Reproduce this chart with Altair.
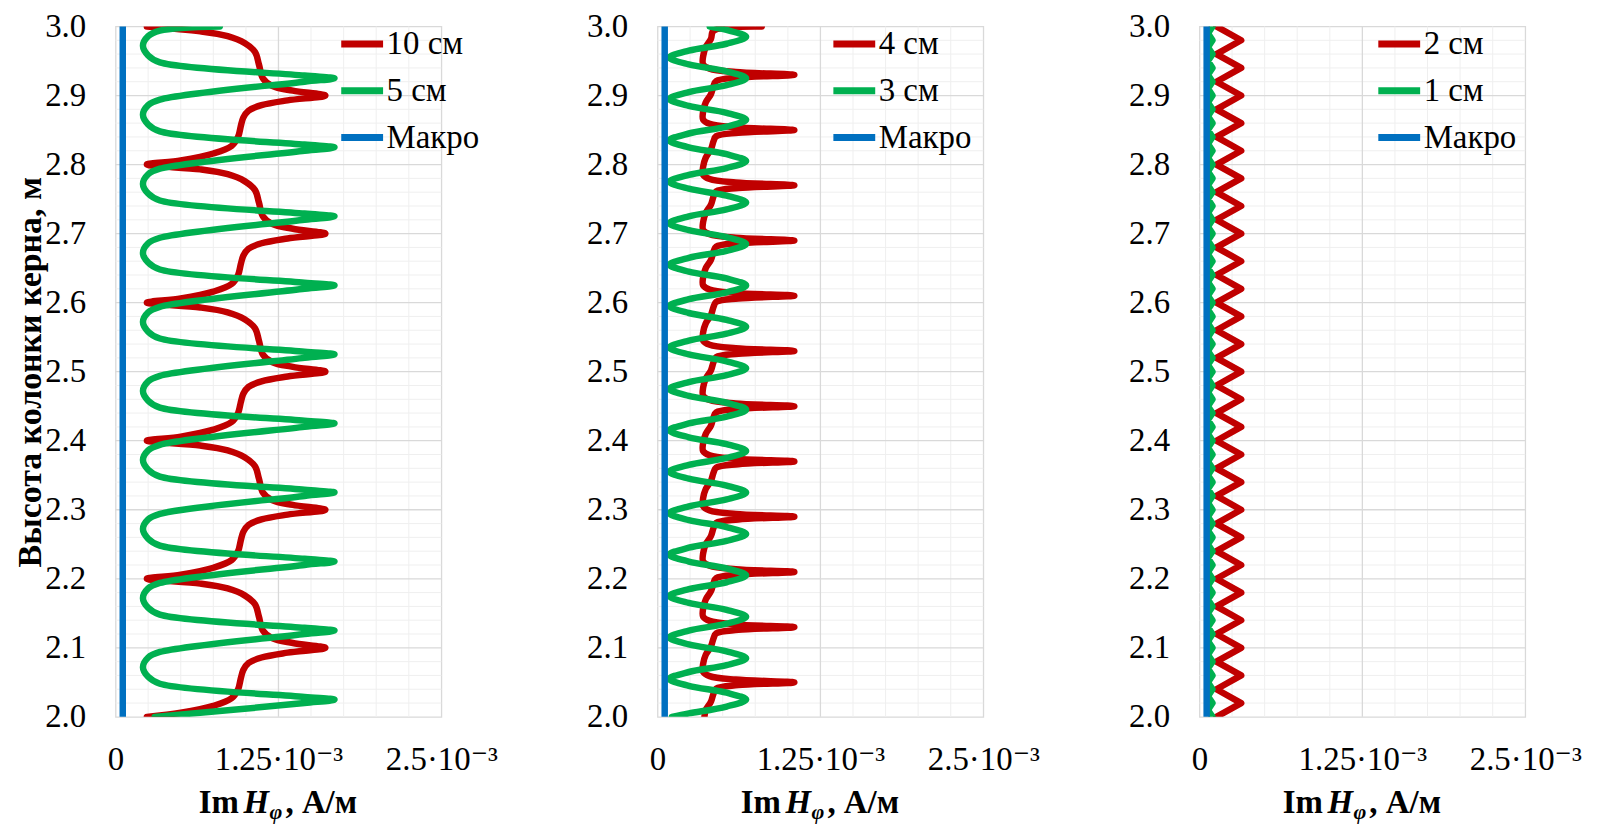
import altair as alt
import pandas as pd

# ---------------- data (x values in units of 10^-3 A/m, y in m) ----------------
# Panel 1
IM_10CM_Y = [
    2.000, 2.006, 2.016, 2.027, 2.040, 2.055, 2.068, 2.078, 2.086, 2.093, 2.100, 2.107, 2.114, 2.125, 2.145, 2.163, 2.176, 2.186, 2.193,
    2.200, 2.206, 2.216, 2.227, 2.240, 2.255, 2.268, 2.278, 2.286, 2.293, 2.300, 2.307, 2.314, 2.325, 2.345, 2.363, 2.376, 2.386, 2.393,
    2.400, 2.406, 2.416, 2.427, 2.440, 2.455, 2.468, 2.478, 2.486, 2.493, 2.500, 2.507, 2.514, 2.525, 2.545, 2.563, 2.576, 2.586, 2.593,
    2.600, 2.606, 2.616, 2.627, 2.640, 2.655, 2.668, 2.678, 2.686, 2.693, 2.700, 2.707, 2.714, 2.725, 2.745, 2.763, 2.776, 2.786, 2.793,
    2.800, 2.806, 2.816, 2.827, 2.840, 2.855, 2.868, 2.878, 2.886, 2.893, 2.900, 2.907, 2.914, 2.925, 2.945, 2.963, 2.976, 2.986, 2.993,
    3.000]
IM_10CM_X = [
    0.24, 0.50, 0.75, 0.89, 0.94, 0.96, 0.98, 1.02, 1.12, 1.32, 1.61, 1.36, 1.20, 1.13, 1.10, 1.07, 0.99, 0.86, 0.65,
    0.24, 0.50, 0.75, 0.89, 0.94, 0.96, 0.98, 1.02, 1.12, 1.32, 1.61, 1.36, 1.20, 1.13, 1.10, 1.07, 0.99, 0.86, 0.65,
    0.24, 0.50, 0.75, 0.89, 0.94, 0.96, 0.98, 1.02, 1.12, 1.32, 1.61, 1.36, 1.20, 1.13, 1.10, 1.07, 0.99, 0.86, 0.65,
    0.24, 0.50, 0.75, 0.89, 0.94, 0.96, 0.98, 1.02, 1.12, 1.32, 1.61, 1.36, 1.20, 1.13, 1.10, 1.07, 0.99, 0.86, 0.65,
    0.24, 0.50, 0.75, 0.89, 0.94, 0.96, 0.98, 1.02, 1.12, 1.32, 1.61, 1.36, 1.20, 1.13, 1.10, 1.07, 0.99, 0.86, 0.65,
    0.24]

IM_5CM_Y = [
    2.000,
    2.020, 2.025, 2.029, 2.048, 2.058, 2.072, 2.086, 2.094,
    2.120, 2.125, 2.129, 2.148, 2.158, 2.172, 2.186, 2.194,
    2.220, 2.225, 2.229, 2.248, 2.258, 2.272, 2.286, 2.294,
    2.320, 2.325, 2.329, 2.348, 2.358, 2.372, 2.386, 2.394,
    2.420, 2.425, 2.429, 2.448, 2.458, 2.472, 2.486, 2.494,
    2.520, 2.525, 2.529, 2.548, 2.558, 2.572, 2.586, 2.594,
    2.620, 2.625, 2.629, 2.648, 2.658, 2.672, 2.686, 2.694,
    2.720, 2.725, 2.729, 2.748, 2.758, 2.772, 2.786, 2.794,
    2.820, 2.825, 2.829, 2.848, 2.858, 2.872, 2.886, 2.894,
    2.920, 2.925, 2.929, 2.948, 2.958, 2.972, 2.986, 2.994,
    3.000]
IM_5CM_X = [
    0.30,
    1.45, 1.68, 1.45, 0.34, 0.25, 0.21, 0.25, 0.34,
    1.45, 1.68, 1.45, 0.34, 0.25, 0.21, 0.25, 0.34,
    1.45, 1.68, 1.45, 0.34, 0.25, 0.21, 0.25, 0.34,
    1.45, 1.68, 1.45, 0.34, 0.25, 0.21, 0.25, 0.34,
    1.45, 1.68, 1.45, 0.34, 0.25, 0.21, 0.25, 0.34,
    1.45, 1.68, 1.45, 0.34, 0.25, 0.21, 0.25, 0.34,
    1.45, 1.68, 1.45, 0.34, 0.25, 0.21, 0.25, 0.34,
    1.45, 1.68, 1.45, 0.34, 0.25, 0.21, 0.25, 0.34,
    1.45, 1.68, 1.45, 0.34, 0.25, 0.21, 0.25, 0.34,
    1.45, 1.68, 1.45, 0.34, 0.25, 0.21, 0.25, 0.34,
    0.80]

# Panel 2
IM_4CM_Y = [
    2.000, 2.010, 2.022, 2.034,
    2.041, 2.046, 2.050, 2.054, 2.059, 2.065, 2.077, 2.090, 2.102, 2.114,
    2.121, 2.126, 2.130, 2.134, 2.139, 2.145, 2.157, 2.170, 2.182, 2.194,
    2.201, 2.206, 2.210, 2.214, 2.219, 2.225, 2.237, 2.250, 2.262, 2.274,
    2.281, 2.286, 2.290, 2.294, 2.299, 2.305, 2.317, 2.330, 2.342, 2.354,
    2.361, 2.366, 2.370, 2.374, 2.379, 2.385, 2.397, 2.410, 2.422, 2.434,
    2.441, 2.446, 2.450, 2.454, 2.459, 2.465, 2.477, 2.490, 2.502, 2.514,
    2.521, 2.526, 2.530, 2.534, 2.539, 2.545, 2.557, 2.570, 2.582, 2.594,
    2.601, 2.606, 2.610, 2.614, 2.619, 2.625, 2.637, 2.650, 2.662, 2.674,
    2.681, 2.686, 2.690, 2.694, 2.699, 2.705, 2.717, 2.730, 2.742, 2.754,
    2.761, 2.766, 2.770, 2.774, 2.779, 2.785, 2.797, 2.810, 2.822, 2.834,
    2.841, 2.846, 2.850, 2.854, 2.859, 2.865, 2.877, 2.890, 2.902, 2.914,
    2.921, 2.926, 2.930, 2.934, 2.939, 2.945, 2.957, 2.970, 2.982, 2.994,
    3.000]
IM_4CM_X = [
    0.36, 0.37, 0.41, 0.43,
    0.45, 0.62, 1.05, 0.60, 0.40, 0.35, 0.35, 0.37, 0.41, 0.43,
    0.45, 0.62, 1.05, 0.60, 0.40, 0.35, 0.35, 0.37, 0.41, 0.43,
    0.45, 0.62, 1.05, 0.60, 0.40, 0.35, 0.35, 0.37, 0.41, 0.43,
    0.45, 0.62, 1.05, 0.60, 0.40, 0.35, 0.35, 0.37, 0.41, 0.43,
    0.45, 0.62, 1.05, 0.60, 0.40, 0.35, 0.35, 0.37, 0.41, 0.43,
    0.45, 0.62, 1.05, 0.60, 0.40, 0.35, 0.35, 0.37, 0.41, 0.43,
    0.45, 0.62, 1.05, 0.60, 0.40, 0.35, 0.35, 0.37, 0.41, 0.43,
    0.45, 0.62, 1.05, 0.60, 0.40, 0.35, 0.35, 0.37, 0.41, 0.43,
    0.45, 0.62, 1.05, 0.60, 0.40, 0.35, 0.35, 0.37, 0.41, 0.43,
    0.45, 0.62, 1.05, 0.60, 0.40, 0.35, 0.35, 0.37, 0.41, 0.43,
    0.45, 0.62, 1.05, 0.60, 0.40, 0.35, 0.35, 0.37, 0.41, 0.43,
    0.45, 0.62, 1.05, 0.60, 0.40, 0.35, 0.35, 0.37, 0.41, 0.43,
    0.80]

IM_3CM_Y = [
    2.000,
    2.005, 2.015, 2.025, 2.035, 2.045, 2.055, 2.065, 2.075, 2.085, 2.095,
    2.105, 2.115, 2.125, 2.135, 2.145, 2.155, 2.165, 2.175, 2.185, 2.195,
    2.205, 2.215, 2.225, 2.235, 2.245, 2.255, 2.265, 2.275, 2.285, 2.295,
    2.305, 2.315, 2.325, 2.335, 2.345, 2.355, 2.365, 2.375, 2.385, 2.395,
    2.405, 2.415, 2.425, 2.435, 2.445, 2.455, 2.465, 2.475, 2.485, 2.495,
    2.505, 2.515, 2.525, 2.535, 2.545, 2.555, 2.565, 2.575, 2.585, 2.595,
    2.605, 2.615, 2.625, 2.635, 2.645, 2.655, 2.665, 2.675, 2.685, 2.695,
    2.705, 2.715, 2.725, 2.735, 2.745, 2.755, 2.765, 2.775, 2.785, 2.795,
    2.805, 2.815, 2.825, 2.835, 2.845, 2.855, 2.865, 2.875, 2.885, 2.895,
    2.905, 2.915, 2.925, 2.935, 2.945, 2.955, 2.965, 2.975, 2.985, 2.995,
    3.000]
IM_3CM_X = [
    0.11,
    0.24, 0.53, 0.68, 0.53, 0.24, 0.09,
    0.24, 0.53, 0.68, 0.53, 0.24, 0.09,
    0.24, 0.53, 0.68, 0.53, 0.24, 0.09,
    0.24, 0.53, 0.68, 0.53, 0.24, 0.09,
    0.24, 0.53, 0.68, 0.53, 0.24, 0.09,
    0.24, 0.53, 0.68, 0.53, 0.24, 0.09,
    0.24, 0.53, 0.68, 0.53, 0.24, 0.09,
    0.24, 0.53, 0.68, 0.53, 0.24, 0.09,
    0.24, 0.53, 0.68, 0.53, 0.24, 0.09,
    0.24, 0.53, 0.68, 0.53, 0.24, 0.09,
    0.24, 0.53, 0.68, 0.53, 0.24, 0.09,
    0.24, 0.53, 0.68, 0.53, 0.24, 0.09,
    0.24, 0.53, 0.68, 0.53, 0.24, 0.09,
    0.24, 0.53, 0.68, 0.53, 0.24, 0.09,
    0.24, 0.53, 0.68, 0.53, 0.24, 0.09,
    0.24, 0.53, 0.68, 0.53, 0.24, 0.09,
    0.24, 0.53, 0.68, 0.53,
    0.40]

# Panel 3
IM_2CM_Y = [
    2.00, 2.02, 2.04, 2.06, 2.08, 2.10, 2.12, 2.14, 2.16, 2.18,
    2.20, 2.22, 2.24, 2.26, 2.28, 2.30, 2.32, 2.34, 2.36, 2.38,
    2.40, 2.42, 2.44, 2.46, 2.48, 2.50, 2.52, 2.54, 2.56, 2.58,
    2.60, 2.62, 2.64, 2.66, 2.68, 2.70, 2.72, 2.74, 2.76, 2.78,
    2.80, 2.82, 2.84, 2.86, 2.88, 2.90, 2.92, 2.94, 2.96, 2.98,
    3.00]
IM_2CM_X = [
    0.13, 0.32, 0.13, 0.32, 0.13, 0.32, 0.13, 0.32, 0.13, 0.32,
    0.13, 0.32, 0.13, 0.32, 0.13, 0.32, 0.13, 0.32, 0.13, 0.32,
    0.13, 0.32, 0.13, 0.32, 0.13, 0.32, 0.13, 0.32, 0.13, 0.32,
    0.13, 0.32, 0.13, 0.32, 0.13, 0.32, 0.13, 0.32, 0.13, 0.32,
    0.13, 0.32, 0.13, 0.32, 0.13, 0.32, 0.13, 0.32, 0.13, 0.32,
    0.13]

IM_1CM_Y = [
    2.00, 2.01, 2.02, 2.03, 2.04, 2.05, 2.06, 2.07, 2.08, 2.09,
    2.10, 2.11, 2.12, 2.13, 2.14, 2.15, 2.16, 2.17, 2.18, 2.19,
    2.20, 2.21, 2.22, 2.23, 2.24, 2.25, 2.26, 2.27, 2.28, 2.29,
    2.30, 2.31, 2.32, 2.33, 2.34, 2.35, 2.36, 2.37, 2.38, 2.39,
    2.40, 2.41, 2.42, 2.43, 2.44, 2.45, 2.46, 2.47, 2.48, 2.49,
    2.50, 2.51, 2.52, 2.53, 2.54, 2.55, 2.56, 2.57, 2.58, 2.59,
    2.60, 2.61, 2.62, 2.63, 2.64, 2.65, 2.66, 2.67, 2.68, 2.69,
    2.70, 2.71, 2.72, 2.73, 2.74, 2.75, 2.76, 2.77, 2.78, 2.79,
    2.80, 2.81, 2.82, 2.83, 2.84, 2.85, 2.86, 2.87, 2.88, 2.89,
    2.90, 2.91, 2.92, 2.93, 2.94, 2.95, 2.96, 2.97, 2.98, 2.99,
    3.00]
IM_1CM_X = [
    0.100, 0.065, 0.100, 0.065, 0.100, 0.065, 0.100, 0.065, 0.100, 0.065,
    0.100, 0.065, 0.100, 0.065, 0.100, 0.065, 0.100, 0.065, 0.100, 0.065,
    0.100, 0.065, 0.100, 0.065, 0.100, 0.065, 0.100, 0.065, 0.100, 0.065,
    0.100, 0.065, 0.100, 0.065, 0.100, 0.065, 0.100, 0.065, 0.100, 0.065,
    0.100, 0.065, 0.100, 0.065, 0.100, 0.065, 0.100, 0.065, 0.100, 0.065,
    0.100, 0.065, 0.100, 0.065, 0.100, 0.065, 0.100, 0.065, 0.100, 0.065,
    0.100, 0.065, 0.100, 0.065, 0.100, 0.065, 0.100, 0.065, 0.100, 0.065,
    0.100, 0.065, 0.100, 0.065, 0.100, 0.065, 0.100, 0.065, 0.100, 0.065,
    0.100, 0.065, 0.100, 0.065, 0.100, 0.065, 0.100, 0.065, 0.100, 0.065,
    0.100, 0.065, 0.100, 0.065, 0.100, 0.065, 0.100, 0.065, 0.100, 0.065,
    0.100]

# Macro model (same in all panels)
MACRO_Y = [2.0, 3.0]
MACRO_X = [0.055, 0.055]

# axis ticks and gridlines
X_TICKS = [0, 1.25, 2.5]
Y_TICKS = [2.0, 2.1, 2.2, 2.3, 2.4, 2.5, 2.6, 2.7, 2.8, 2.9, 3.0]
GRID_X_MAJOR = [1.25]
GRID_X_MINOR = [0.25, 0.5, 0.75, 1.0, 1.5, 1.75, 2.0, 2.25]
GRID_Y_MAJOR = [2.1, 2.2, 2.3, 2.4, 2.5, 2.6, 2.7, 2.8, 2.9]
GRID_Y_MINOR = [
    2.02, 2.04, 2.06, 2.08, 2.12, 2.14, 2.16, 2.18, 2.22, 2.24, 2.26, 2.28,
    2.32, 2.34, 2.36, 2.38, 2.42, 2.44, 2.46, 2.48, 2.52, 2.54, 2.56, 2.58,
    2.62, 2.64, 2.66, 2.68, 2.72, 2.74, 2.76, 2.78, 2.82, 2.84, 2.86, 2.88,
    2.92, 2.94, 2.96, 2.98]

LEGEND_1 = ["10 см", "5 см", "Макро"]
LEGEND_2 = ["4 см", "3 см", "Макро"]
LEGEND_3 = ["2 см", "1 см", "Макро"]

# ---------------- styling ----------------
RED, GREEN, BLUE = "#C00000", "#00B050", "#0070C0"
FONT = "Liberation Serif, Times New Roman, Tinos, DejaVu Serif, serif"
W, H = 327, 693
TICK_FS = 33
LEG_FS = 33
TITLE_FS = 33

x_scale = alt.Scale(domain=[0, 2.5], nice=False, zero=False)
y_scale = alt.Scale(domain=[2.0, 3.0], nice=False, zero=False)

x_axis = alt.Axis(
    values=X_TICKS,
    labelExpr="datum.value == 0 ? '0' : (datum.value == 1.25 ? '1.25·10⁻³' : '2.5·10⁻³')",
    grid=False, domain=False, ticks=False, tickSize=0,
    labelPadding=27, labelFont=FONT, labelFontSize=TICK_FS, labelColor="black",
    labelOverlap=False, labelFlush=False, title=None,
)


def make_panel(series, names, legend_x, y_title):
    y_kwargs = dict(
        values=Y_TICKS, format=".1f", grid=False, domain=False, ticks=False, tickSize=0,
        labelPadding=30, labelFont=FONT, labelFontSize=TICK_FS, labelColor="black",
        labelOverlap=False, labelFlush=False,
    )
    if y_title:
        y_axis = alt.Axis(title=y_title, titleFont=FONT, titleFontSize=34,
                          titleFontWeight="bold", titleColor="black", titleX=-68, **y_kwargs)
    else:
        y_axis = alt.Axis(title=None, **y_kwargs)

    X = alt.X("x:Q", scale=x_scale, axis=x_axis)
    Y = alt.Y("y:Q", scale=y_scale, axis=y_axis)

    layers = [
        alt.Chart(pd.DataFrame({"x": GRID_X_MINOR})).mark_rule(color="#EFEFEF", strokeWidth=1).encode(x=X),
        alt.Chart(pd.DataFrame({"y": GRID_Y_MINOR})).mark_rule(color="#EFEFEF", strokeWidth=1).encode(y=Y),
        alt.Chart(pd.DataFrame({"x": GRID_X_MAJOR})).mark_rule(color="#D9D9D9", strokeWidth=1.3).encode(x=X),
        alt.Chart(pd.DataFrame({"y": GRID_Y_MAJOR})).mark_rule(color="#D9D9D9", strokeWidth=1.3).encode(y=Y),
    ]

    cscale = alt.Scale(domain=names, range=[RED, GREEN, BLUE])
    legend = alt.Legend(
        orient="none", legendX=legend_x, legendY=-7, title=None, padding=0,
        symbolType="stroke", symbolStrokeWidth=7, symbolSize=1764,
        labelFont=FONT, labelFontSize=LEG_FS, labelColor="black", labelOffset=0,
        labelLimit=0, rowPadding=5,
    )
    for name, ys, xs, interp in series:
        df = pd.DataFrame({"y": ys, "x": xs, "s": name})
        layers.append(
            alt.Chart(df).mark_line(
                interpolate=interp, strokeWidth=6.5, strokeCap="round", strokeJoin="round", clip=True
            ).encode(
                x=X, y=Y, order=alt.Order("y:Q"),
                color=alt.Color("s:N", scale=cscale, legend=legend),
            )
        )

    # composed x-axis title: Im H_phi, A/m
    def piece(text, dx, dy, size, style):
        return alt.Chart(pd.DataFrame({"t": [text]})).mark_text(
            align="left", baseline="alphabetic", font=FONT, fontSize=size,
            fontWeight="bold", fontStyle=style, color="black",
        ).encode(text="t:N", x=alt.value(W / 2 + dx), y=alt.value(H + dy))

    layers += [
        piece("Im", -80, 96, TITLE_FS, "normal"),
        piece("H", -35, 96, TITLE_FS, "italic"),
        piece("φ", -9, 103, 22, "italic"),
        piece(", А/м", 7, 96, TITLE_FS, "normal"),
    ]
    return alt.layer(*layers).properties(width=W, height=H)


p1 = make_panel(
    [(LEGEND_1[0], IM_10CM_Y, IM_10CM_X, "catmull-rom"),
     (LEGEND_1[1], IM_5CM_Y, IM_5CM_X, "catmull-rom"),
     (LEGEND_1[2], MACRO_Y, MACRO_X, "linear")],
    LEGEND_1, 223, "Высота колонки керна, м")
p2 = make_panel(
    [(LEGEND_2[0], IM_4CM_Y, IM_4CM_X, "catmull-rom"),
     (LEGEND_2[1], IM_3CM_Y, IM_3CM_X, "catmull-rom"),
     (LEGEND_2[2], MACRO_Y, MACRO_X, "linear")],
    LEGEND_2, 173, None)
p3 = make_panel(
    [(LEGEND_3[0], IM_2CM_Y, IM_2CM_X, "linear"),
     (LEGEND_3[1], IM_1CM_Y, IM_1CM_X, "linear"),
     (LEGEND_3[2], MACRO_Y, MACRO_X, "linear")],
    LEGEND_3, 176, None)

chart = (
    alt.hconcat(p1, p2, p3, spacing=217, bounds="flush")
    .resolve_scale(color="independent")
    .properties(padding={"left": 5, "top": 0, "right": 10, "bottom": 4}, background="white")
    .configure_view(stroke="#D9D9D9", strokeWidth=1.3)
)

chart.save("out.html", embed_options={"renderer": "svg", "actions": False})
